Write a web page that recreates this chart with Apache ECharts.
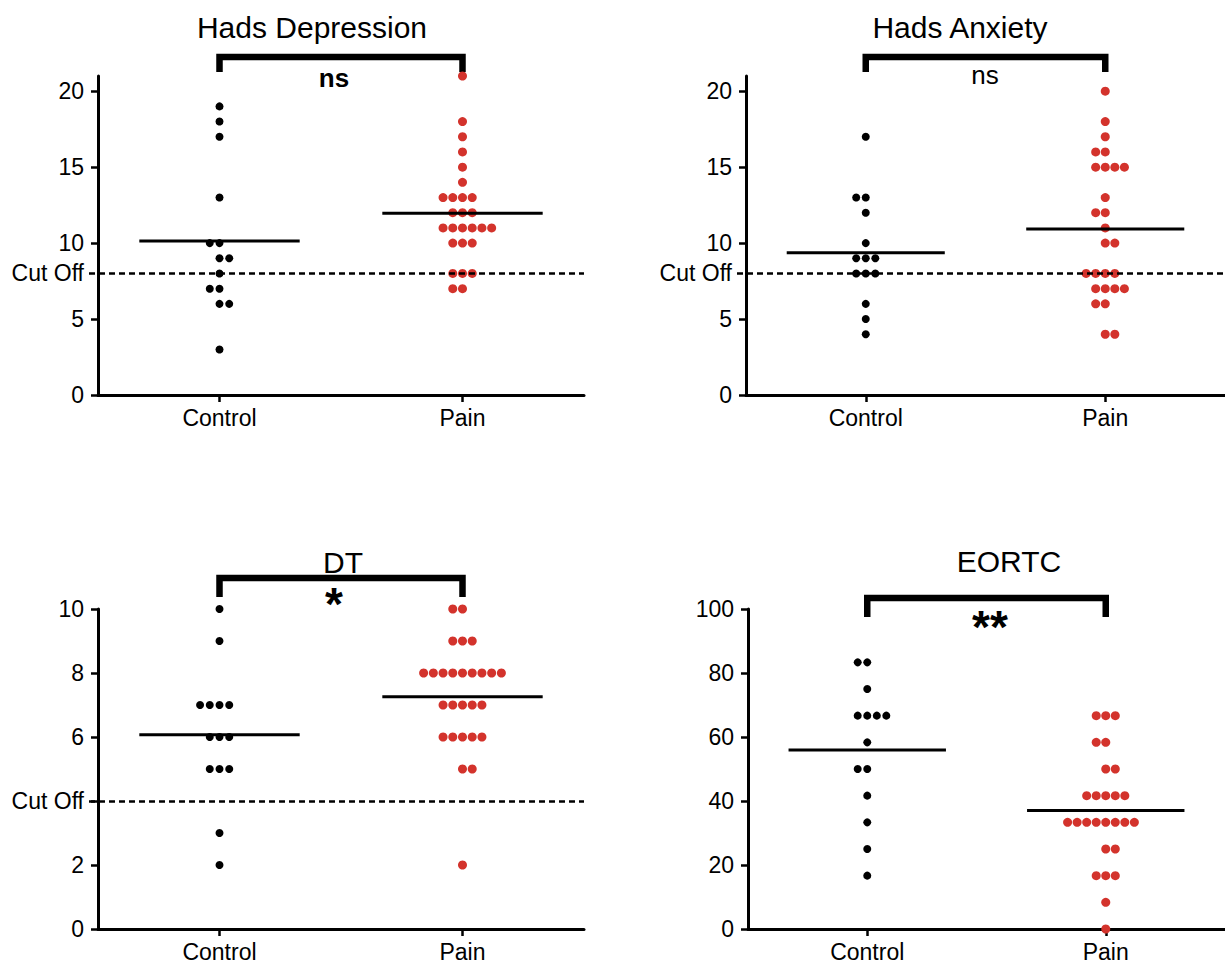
<!DOCTYPE html>
<html><head><meta charset="utf-8">
<script src="https://cdn.jsdelivr.net/npm/echarts@6/dist/echarts.min.js"></script>
<style>
html,body{margin:0;padding:0;background:#fff;overflow:hidden}
#c{width:1225px;height:965px}
</style>
</head><body><div id="c"></div>
<script>
// ---------------- data ----------------
const groups = ['Control', 'Pain'];
const titles = ['Hads Depression', 'Hads Anxiety', 'DT', 'EORTC'];
const sigLabels = ['ns', 'ns', '*', '**'];
const cutOffs = [8, 8, 4, null];
const yMaxes = [21, 21, 10, 100];
const yTicks = [
  [0, 5, 10, 15, 20],
  [0, 5, 10, 15, 20],
  [0, 2, 4, 6, 8, 10],
  [0, 20, 40, 60, 80, 100]
];
const cutOffLabel = 'Cut Off';

const hadsDepControl = [19, 18, 17, 13, 10, 10, 9, 9, 8, 7, 7, 6, 6, 3];
const hadsDepPain = [21, 18, 17, 16, 15, 14, 13, 13, 13, 13, 12, 12, 12, 11, 11, 11, 11, 11, 11, 10, 10, 10, 8, 8, 8, 7, 7];
const hadsAnxControl = [17, 13, 13, 12, 10, 9, 9, 9, 8, 8, 8, 6, 5, 4];
const hadsAnxPain = [20, 18, 17, 16, 16, 15, 15, 15, 15, 13, 12, 12, 11, 10, 10, 8, 8, 8, 8, 7, 7, 7, 7, 6, 6, 4, 4];
const dtControl = [10, 9, 7, 7, 7, 7, 6, 6, 6, 5, 5, 5, 3, 2];
const dtPain = [10, 10, 9, 9, 9, 8, 8, 8, 8, 8, 8, 8, 8, 8, 7, 7, 7, 7, 7, 6, 6, 6, 6, 6, 5, 5, 2];
const eortcControl = [83.33, 83.33, 75, 66.67, 66.67, 66.67, 66.67, 58.33, 50, 50, 41.67, 33.33, 25, 16.67];
const eortcPain = [66.67, 66.67, 66.67, 58.33, 58.33, 50, 50, 41.67, 41.67, 41.67, 41.67, 41.67,
  33.33, 33.33, 33.33, 33.33, 33.33, 33.33, 33.33, 33.33, 25, 25, 16.67, 16.67, 16.67, 8.33, 0];

const panelData = [
  [hadsDepControl, hadsDepPain],
  [hadsAnxControl, hadsAnxPain],
  [dtControl, dtPain],
  [eortcControl, eortcPain]
];

// ---------------- layout / style ----------------
const FONT = '"Liberation Sans", Arial, Helvetica, sans-serif';
const panels = [
  { left: 98, top: 76, width: 486, height: 319 },
  { left: 746, top: 76, width: 479, height: 319 },
  { left: 98, top: 609, width: 486, height: 320 },
  { left: 748, top: 609, width: 477, height: 320 }
];
const titlePos = [[312, 27], [960, 27], [343, 562], [1009, 561]];
const sigPos = [[334, 78, 'bold', 26], [985, 75, 'normal', 26], [334, 604, 'bold', 46], [990, 627, 'bold', 46]];
const bracketY = [[57, 72], [57, 72], [578, 597], [598, 617]];
const colors = ['#000000', '#d3332c'];
const dotSizes = [8, 9];
const DOT_STEP = 0.04;     // horizontal spacing of tied values (x units, category width = 1)
const MEAN_HALF = 0.33;

function swarm(values, center) {
  const rows = new Map();
  values.forEach(v => rows.set(v, (rows.get(v) || 0) + 1));
  const keys = Array.from(rows.keys()).sort((a, b) => b - a);
  let flip = false;
  const out = [];
  keys.forEach(k => {
    const n = rows.get(k);
    let start;
    if (n % 2) start = -(n - 1) / 2;
    else { start = flip ? -n / 2 + 1 : -n / 2; flip = !flip; }
    for (let j = 0; j < n; j++) out.push([center + (start + j) * DOT_STEP, k]);
  });
  return out;
}
const mean = a => a.reduce((s, v) => s + v, 0) / a.length;

const chart = echarts.init(document.getElementById('c'), null, { renderer: 'svg', width: 1225, height: 965 });

const grid = [], xAxis = [], yAxis = [], series = [];
panels.forEach((p, i) => {
  grid.push({ left: p.left, top: p.top, width: p.width, height: p.height, containLabel: false });
  xAxis.push({
    type: 'category', gridIndex: i, data: groups, boundaryGap: true,
    axisLine: { show: true, lineStyle: { color: '#000', width: 3 } },
    axisTick: { show: true, alignWithLabel: true, length: 7, lineStyle: { color: '#000', width: 2.5 } },
    axisLabel: { color: '#000', fontSize: 23, fontFamily: FONT, margin: 11 },
    splitLine: { show: false }
  });
  xAxis.push({ type: 'value', gridIndex: i, min: 0, max: 2, show: false });
  const cut = cutOffs[i];
  const labelVals = yTicks[i].filter(v => v !== cut);
  if (cut !== null) labelVals.push(cut);
  yAxis.push({
    type: 'value', gridIndex: i, min: 0, max: yMaxes[i],
    axisLine: { show: true, lineStyle: { color: '#000', width: 3 } },
    axisTick: { show: true, length: 7, customValues: yTicks[i], lineStyle: { color: '#000', width: 2.5 } },
    axisLabel: {
      color: '#000', fontSize: 23, fontFamily: FONT, margin: 14,
      customValues: labelVals.sort((a, b) => a - b),
      formatter: v => (v === cut ? cutOffLabel : String(v))
    },
    splitLine: { show: false }
  });
  const xIdx = i * 2 + 1;
  panelData[i].forEach((vals, g) => {
    series.push({
      type: 'scatter', xAxisIndex: xIdx, yAxisIndex: i, clip: false,
      symbol: 'circle', symbolSize: dotSizes[g], itemStyle: { color: colors[g], opacity: 1 },
      data: swarm(vals, g + 0.5), z: 3, silent: true
    });
    const m = mean(vals);
    const line = {
      type: 'line', xAxisIndex: xIdx, yAxisIndex: i, symbol: 'none', silent: true,
      lineStyle: { color: '#000', width: 3 }, z: 4,
      data: [[g + 0.5 - MEAN_HALF, m], [g + 0.5 + MEAN_HALF, m]]
    };
    if (g === 0 && cut !== null) {
      line.markLine = {
        silent: true, symbol: ['none', 'none'], label: { show: false },
        lineStyle: { color: '#000', width: 2.5, type: [6, 4] },
        data: [[{ x: p.left - 9, yAxis: cut }, { x: p.left + p.width, yAxis: cut }]]
      };
    }
    series.push(line);
  });
});

chart.setOption({ animation: false, grid, xAxis, yAxis, series });

// annotations: titles, brackets, significance labels
const graphic = [];
panels.forEach((p, i) => {
  const xIdx = i * 2 + 1;
  const x1 = chart.convertToPixel({ xAxisIndex: xIdx }, 0.5);
  const x2 = chart.convertToPixel({ xAxisIndex: xIdx }, 1.5);
  const [yb, yl] = bracketY[i];
  graphic.push({
    type: 'polyline', silent: true,
    shape: { points: [[x1, yl], [x1, yb], [x2, yb], [x2, yl]] },
    style: { stroke: '#000', lineWidth: 6.5, fill: null, lineJoin: 'miter', lineCap: 'butt' }
  });
  graphic.push({
    type: 'text', silent: true, x: titlePos[i][0], y: titlePos[i][1],
    style: { text: titles[i], font: '30px ' + FONT, fill: '#000', textAlign: 'center', textVerticalAlign: 'middle', align: 'center', verticalAlign: 'middle' }
  });
  const s = sigPos[i];
  graphic.push({
    type: 'text', silent: true, x: s[0], y: s[1],
    style: { text: sigLabels[i], font: s[2] + ' ' + s[3] + 'px ' + FONT, fill: '#000', textAlign: 'center', textVerticalAlign: 'middle', align: 'center', verticalAlign: 'middle' }
  });
});
chart.setOption({ graphic });
</script>
</body></html>
